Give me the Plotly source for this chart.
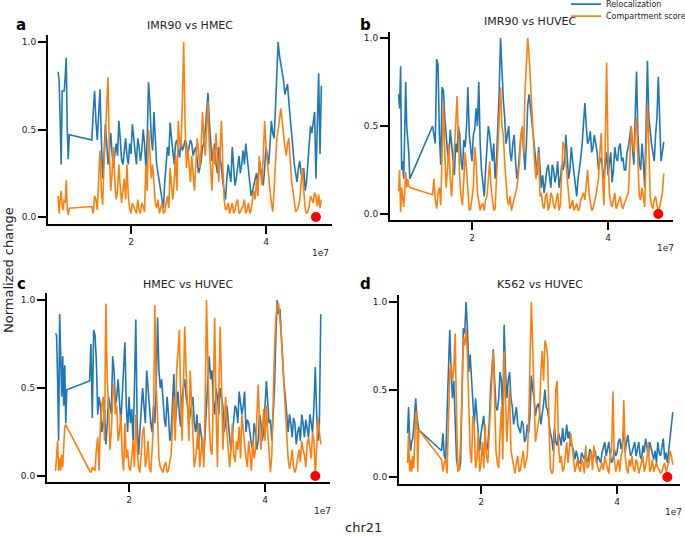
import plotly.graph_objects as go

# ---------------- data ----------------
# genomic bin positions on chr21 (Mb)
pos_seg1_mb = [9.2, 9.35, 9.5, 9.65, 9.8, 9.95, 10.1, 10.25, 10.4, 10.55, 10.7, 10.85]
pos_seg2_mb = [14.2, 14.4, 14.6, 14.8, 15.0, 15.2, 15.4, 15.6, 15.8, 16.0,
               16.2, 16.4, 16.6, 16.8, 17.0, 17.2, 17.4, 17.6, 17.8, 18.0,
               18.2, 18.4, 18.6, 18.8, 19.0, 19.2, 19.4, 19.6, 19.8, 20.0,
               20.2, 20.4, 20.6, 20.8, 21.0, 21.2, 21.4, 21.6, 21.8, 22.0,
               22.2, 22.4, 22.6, 22.8, 23.0, 23.2, 23.4, 23.6, 23.8, 24.0,
               24.2, 24.4, 24.6, 24.8, 25.0, 25.2, 25.4, 25.6, 25.8, 26.0,
               26.2, 26.4, 26.6, 26.8, 27.0, 27.2, 27.4, 27.6, 27.8, 28.0,
               28.2, 28.4, 28.6, 28.8, 29.0, 29.2, 29.4, 29.6, 29.8, 30.0,
               30.2, 30.4, 30.6, 30.8, 31.0, 31.2, 31.4, 31.6, 31.8, 32.0,
               32.2, 32.4, 32.6, 32.8, 33.0, 33.2, 33.4, 33.6, 33.8, 34.0,
               34.2, 34.4, 34.6, 34.8, 35.0, 35.2, 35.4, 35.6, 35.8, 36.0,
               36.2, 36.4, 36.6, 36.8, 37.0, 37.2, 37.4, 37.6, 37.8, 38.0,
               38.2, 38.4, 38.6, 38.8, 39.0, 39.2, 39.4, 39.6, 39.8, 40.0,
               40.2, 40.4, 40.6, 40.8, 41.0, 41.2, 41.4, 41.6, 41.8, 42.0,
               42.2, 42.4, 42.6, 42.8, 43.0, 43.2, 43.4, 43.6, 43.8, 44.0,
               44.2, 44.4, 44.6, 44.8, 45.0, 45.2, 45.4, 45.6, 45.8, 46.0,
               46.2, 46.4, 46.6, 46.8, 47.0, 47.2, 47.4, 47.6, 47.8, 48.0,
               48.2]
positions_mb = pos_seg1_mb + pos_seg2_mb

panel_titles = ["IMR90 vs HMEC", "IMR90 vs HUVEC", "HMEC vs HUVEC", "K562 vs HUVEC"]
panel_letters = ["a", "b", "c", "d"]
series_names = ["Relocalization", "Compartment score"]

# values at the 12 early bins + every second bin of the main stretch (0.4 Mb apart)
reloc_a = [0.83, 0.78, 0.55, 0.30, 0.72, 0.72, 0.72, 0.80, 0.91, 0.50, 0.33, 0.47,
           0.44, 0.72, 0.44, 0.73, 0.22, 0.53, 0.30, 0.48, 0.28, 0.42, 0.55, 0.33, 0.40,
           0.35, 0.42, 0.53, 0.38, 0.45, 0.32, 0.50, 0.28, 0.77, 0.45, 0.60, 0.30, 0.20,
           0.08, 0.20, 0.40, 0.54, 0.35, 0.42, 0.38, 0.44, 0.40, 0.42, 0.40,
           0.42, 0.38, 0.33, 0.28, 0.40, 0.50, 0.71, 0.45, 0.38, 0.30, 0.40, 0.28, 0.15,
           0.22, 0.25, 0.40, 0.18, 0.30, 0.25, 0.38, 0.42, 0.28, 0.12, 0.18, 0.25, 0.32,
           0.22, 0.28, 0.35, 0.42, 0.48, 0.62, 1.00, 0.88, 0.78, 0.74, 0.65, 0.48, 0.30,
           0.20, 0.32, 0.22, 0.15, 0.30, 0.52, 0.56, 0.22, 0.82, 0.75]
comp_a = [0.12, 0.02, 0.10, 0.15, 0.07, 0.04, 0.10, 0.08, 0.21, 0.05, 0.01, 0.05,
          0.06, 0.12, 0.04, 0.38, 0.07, 0.50, 0.80, 0.15, 0.40, 0.10, 0.30, 0.08, 0.22,
          0.30, 0.05, 0.08, 0.04, 0.10, 0.02, 0.06, 0.30, 0.50, 0.22, 0.15, 0.05, 0.02,
          0.08, 0.03, 0.12, 0.28, 0.10, 0.35, 0.55, 0.40, 1.00, 0.28, 0.32,
          0.35, 0.15, 0.45, 0.28, 0.60, 0.35, 0.66, 0.25, 0.40, 0.48, 0.20, 0.55, 0.10,
          0.05, 0.02, 0.08, 0.04, 0.10, 0.03, 0.06, 0.02, 0.08, 0.04, 0.15, 0.22, 0.35,
          0.18, 0.55, 0.30, 0.15, 0.03, 0.35, 0.50, 0.62, 0.45, 0.35, 0.45, 0.20, 0.08,
          0.04, 0.10, 0.28, 0.05, 0.03, 0.12, 0.08, 0.12, 0.13, 0.10]
reloc_b = [0.68, 0.60, 0.84, 0.25, 0.30, 0.20, 0.45, 0.75, 0.50, 0.42, 0.35, 0.20,
           0.50, 0.40, 0.85, 0.28, 0.70, 0.42, 0.30, 0.40, 0.22, 0.35, 0.45, 0.25, 0.38,
           0.72, 0.35, 0.45, 0.60, 0.75, 0.25, 0.10, 0.35, 0.45, 0.30, 0.20, 0.48, 1.00,
           0.65, 0.40, 0.50, 0.30, 0.45, 0.20, 0.35, 0.48, 0.25, 0.62, 0.60,
           0.45, 0.30, 0.38, 0.15, 0.12, 0.25, 0.20, 0.28, 0.18, 0.30, 0.20, 0.25, 0.45,
           0.20, 0.38, 0.22, 0.10, 0.25, 0.40, 0.63, 0.40, 0.47, 0.38, 0.40, 0.25, 0.32,
           0.20, 0.35, 0.28, 0.18, 0.38, 0.30, 0.40, 0.32, 0.25, 0.38, 0.50, 0.28, 0.81,
           0.30, 0.40, 0.15, 0.87, 0.45, 0.35, 0.45, 0.78, 0.30, 0.41]
comp_b = [0.13, 0.25, 0.01, 0.15, 0.10, 0.04, 0.12, 0.24, 0.15, 0.20, 0.16, 0.15,
          0.11, 0.08, 0.12, 0.05, 0.62, 0.15, 0.40, 0.10, 0.35, 0.67, 0.20, 0.05, 0.35,
          0.10, 0.03, 0.15, 0.30, 0.08, 0.05, 0.02, 0.10, 0.30, 0.08, 0.03, 0.40, 0.72,
          0.45, 0.15, 0.05, 0.02, 0.08, 0.15, 0.30, 0.50, 0.70, 1.00, 0.75,
          0.40, 0.20, 0.35, 0.12, 0.03, 0.12, 0.05, 0.10, 0.03, 0.12, 0.05, 0.41, 0.30,
          0.12, 0.05, 0.02, 0.06, 0.03, 0.10, 0.08, 0.25, 0.08, 0.03, 0.10, 0.20, 0.46,
          0.05, 0.86, 0.12, 0.04, 0.12, 0.05, 0.10, 0.03, 0.08, 0.12, 0.50, 0.35, 0.55,
          0.10, 0.15, 0.04, 0.62, 0.10, 0.03, 0.10, 0.02, 0.08, 0.23]
reloc_c = [0.81, 0.80, 0.55, 0.20, 0.92, 0.60, 0.45, 0.68, 0.40, 0.63, 0.30, 0.49,
           0.54, 0.33, 0.80, 0.35, 0.40, 0.30, 0.18, 0.45, 0.35, 0.60, 0.45, 0.40, 0.45,
           0.76, 0.25, 0.30, 0.20, 0.89, 0.12, 0.35, 0.40, 0.60, 0.40, 0.25, 0.30, 0.90,
           0.50, 0.40, 0.28, 0.35, 0.25, 0.58, 0.40, 0.35, 0.45, 0.55, 0.40,
           0.35, 0.45, 0.25, 0.15, 0.25, 0.10, 0.40, 0.68, 0.60, 0.35, 0.45, 0.50, 0.40,
           0.30, 0.28, 0.15, 0.30, 0.38, 0.48, 0.35, 0.48, 0.32, 0.22, 0.15, 0.25, 0.20,
           0.30, 0.25, 0.54, 0.30, 0.20, 0.50, 1.00, 0.95, 0.65, 0.45, 0.25, 0.30, 0.33,
           0.18, 0.28, 0.35, 0.22, 0.28, 0.35, 0.25, 0.62, 0.20, 0.92]
comp_c = [0.03, 0.15, 0.20, 0.03, 0.10, 0.03, 0.12, 0.05, 0.20, 0.28, 0.29, 0.28,
          0.03, 0.05, 0.03, 0.22, 0.30, 0.45, 0.98, 0.40, 0.25, 0.52, 0.40, 0.25, 0.12,
          0.30, 0.15, 0.03, 0.20, 0.35, 0.05, 0.12, 0.28, 0.10, 0.05, 0.15, 0.97, 0.35,
          0.05, 0.02, 0.08, 0.03, 0.12, 0.45, 0.60, 0.83, 0.20, 0.85, 0.35,
          0.60, 0.25, 0.10, 0.30, 0.15, 0.05, 1.00, 0.30, 0.12, 0.90, 0.05, 0.85, 0.15,
          0.45, 0.15, 0.15, 0.12, 0.20, 0.28, 0.35, 0.18, 0.05, 0.12, 0.20, 0.15, 0.52,
          0.15, 0.38, 0.40, 0.15, 0.12, 0.72, 0.97, 0.90, 0.65, 0.35, 0.10, 0.08, 0.05,
          0.05, 0.15, 0.20, 0.12, 0.18, 0.14, 0.25, 0.00, 0.33, 0.18]
reloc_d = [0.25, 0.40, 0.22, 0.15, 0.20, 0.22, 0.28, 0.38, 0.45, 0.35, 0.30, 0.27,
           0.15, 0.12, 0.35, 0.84, 0.45, 0.35, 0.05, 0.08, 0.85, 1.00, 0.60, 0.55, 0.30,
           0.35, 0.15, 0.30, 0.22, 0.18, 0.50, 0.73, 0.40, 0.45, 0.55, 0.87, 0.45, 0.60,
           0.40, 0.35, 0.30, 0.25, 0.30, 0.22, 0.25, 0.58, 0.45, 0.40, 0.38,
           0.35, 0.50, 0.38, 0.25, 0.15, 0.20, 0.25, 0.18, 0.20, 0.30, 0.26, 0.18, 0.10,
           0.12, 0.08, 0.12, 0.15, 0.10, 0.14, 0.12, 0.08, 0.10, 0.14, 0.20, 0.16, 0.13,
           0.10, 0.12, 0.20, 0.16, 0.28, 0.20, 0.17, 0.14, 0.20, 0.16, 0.12, 0.18, 0.22,
           0.12, 0.16, 0.10, 0.08, 0.14, 0.18, 0.10, 0.08, 0.22, 0.37]
comp_d = [0.08, 0.25, 0.03, 0.10, 0.03, 0.12, 0.05, 0.20, 0.35, 0.38, 0.03, 0.27,
          0.10, 0.08, 0.02, 0.60, 0.55, 0.82, 0.03, 0.20, 0.80, 0.85, 0.40, 0.08, 0.30,
          0.10, 0.03, 0.20, 0.30, 0.08, 0.35, 0.72, 0.15, 0.05, 0.40, 0.72, 0.20, 0.50,
          0.10, 0.02, 0.12, 0.04, 0.15, 0.08, 0.30, 1.00, 0.40, 0.25, 0.35,
          0.72, 0.78, 0.68, 0.05, 0.03, 0.50, 0.18, 0.12, 0.05, 0.20, 0.15, 0.18, 0.03,
          0.10, 0.03, 0.08, 0.18, 0.06, 0.15, 0.18, 0.08, 0.03, 0.08, 0.12, 0.05, 0.12,
          0.49, 0.03, 0.10, 0.12, 0.44, 0.05, 0.10, 0.12, 0.03, 0.08, 0.05, 0.12, 0.06,
          0.20, 0.05, 0.03, 0.08, 0.04, 0.03, 0.08, 0.05, 0.15, 0.07]

# values at the in-between bins of the main stretch
mid_reloc_a = [0.60, 0.55, 0.58, 0.45, 0.35, 0.42, 0.38, 0.36, 0.36, 0.35,
               0.45, 0.30, 0.45, 0.30, 0.36, 0.45, 0.30, 0.40, 0.38, 0.42,
               0.45, 0.65, 0.38, 0.42, 0.25, 0.15, 0.05, 0.30, 0.35, 0.45,
               0.30, 0.44, 0.34, 0.38, 0.44, 0.35, 0.44, 0.35, 0.40, 0.25,
               0.32, 0.42, 0.62, 0.55, 0.32, 0.42, 0.25, 0.35, 0.20, 0.10,
               0.30, 0.20, 0.30, 0.22, 0.35, 0.30, 0.30, 0.35, 0.20, 0.15,
               0.22, 0.18, 0.28, 0.18, 0.40, 0.30, 0.55, 0.45, 0.80, 0.92,
               0.82, 0.70, 0.76, 0.55, 0.40, 0.25, 0.28, 0.25, 0.28, 0.20,
               0.45, 0.48, 0.60, 0.55, 0.36]
mid_comp_a = [0.02, 0.10, 0.20, 0.15, 0.30, 0.60, 0.35, 0.25, 0.20, 0.15,
              0.18, 0.15, 0.10, 0.12, 0.02, 0.06, 0.02, 0.04, 0.08, 0.03,
              0.15, 0.35, 0.30, 0.08, 0.10, 0.06, 0.02, 0.08, 0.05, 0.18,
              0.20, 0.15, 0.42, 0.65, 0.55, 0.40, 0.20, 0.25, 0.30, 0.38,
              0.40, 0.45, 0.50, 0.40, 0.15, 0.30, 0.35, 0.38, 0.30, 0.04,
              0.08, 0.05, 0.02, 0.08, 0.02, 0.05, 0.10, 0.04, 0.02, 0.10,
              0.10, 0.12, 0.25, 0.35, 0.40, 0.20, 0.08, 0.15, 0.45, 0.55,
              0.55, 0.40, 0.42, 0.30, 0.15, 0.03, 0.06, 0.20, 0.15, 0.02,
              0.06, 0.10, 0.14, 0.06, 0.05]
mid_reloc_b = [0.45, 0.88, 0.45, 0.72, 0.55, 0.35, 0.48, 0.30, 0.40, 0.50,
               0.30, 0.42, 0.50, 0.45, 0.30, 0.48, 0.50, 0.40, 0.15, 0.25,
               0.50, 0.35, 0.40, 0.30, 0.70, 0.80, 0.55, 0.45, 0.35, 0.40,
               0.30, 0.25, 0.45, 0.35, 0.40, 0.68, 0.50, 0.38, 0.22, 0.25,
               0.22, 0.18, 0.28, 0.15, 0.25, 0.22, 0.15, 0.28, 0.30, 0.30,
               0.25, 0.30, 0.15, 0.20, 0.32, 0.50, 0.50, 0.42, 0.35, 0.45,
               0.35, 0.30, 0.25, 0.28, 0.22, 0.35, 0.25, 0.32, 0.38, 0.30,
               0.25, 0.35, 0.45, 0.38, 0.55, 0.45, 0.25, 0.30, 0.50, 0.55,
               0.40, 0.30, 0.55, 0.45, 0.35]
mid_comp_b = [0.20, 0.03, 0.15, 0.30, 0.35, 0.25, 0.20, 0.25, 0.50, 0.40,
              0.10, 0.20, 0.25, 0.02, 0.10, 0.38, 0.12, 0.02, 0.06, 0.08,
              0.20, 0.15, 0.02, 0.20, 0.55, 0.50, 0.30, 0.08, 0.10, 0.05,
              0.12, 0.22, 0.45, 0.35, 0.85, 0.90, 0.55, 0.30, 0.28, 0.10,
              0.05, 0.10, 0.02, 0.12, 0.05, 0.08, 0.02, 0.25, 0.38, 0.20,
              0.03, 0.08, 0.04, 0.02, 0.08, 0.12, 0.15, 0.12, 0.02, 0.06,
              0.15, 0.35, 0.20, 0.40, 0.35, 0.06, 0.08, 0.03, 0.08, 0.05,
              0.06, 0.10, 0.30, 0.42, 0.45, 0.30, 0.08, 0.10, 0.35, 0.40,
              0.05, 0.08, 0.05, 0.04, 0.12]
mid_reloc_c = [0.75, 0.83, 0.65, 0.45, 0.25, 0.38, 0.30, 0.40, 0.68, 0.40,
               0.55, 0.30, 0.60, 0.40, 0.45, 0.38, 0.50, 0.30, 0.25, 0.50,
               0.30, 0.52, 0.30, 0.40, 0.50, 0.60, 0.55, 0.32, 0.45, 0.20,
               0.42, 0.30, 0.48, 0.28, 0.50, 0.45, 0.30, 0.40, 0.30, 0.35,
               0.30, 0.18, 0.28, 0.55, 0.55, 0.42, 0.50, 0.35, 0.45, 0.25,
               0.40, 0.22, 0.25, 0.40, 0.30, 0.42, 0.40, 0.25, 0.30, 0.18,
               0.30, 0.15, 0.35, 0.20, 0.40, 0.42, 0.32, 0.35, 0.80, 0.92,
               0.80, 0.52, 0.35, 0.35, 0.22, 0.30, 0.25, 0.20, 0.30, 0.32,
               0.22, 0.30, 0.40, 0.35, 0.30]
mid_comp_c = [0.02, 0.04, 0.15, 0.03, 0.40, 0.20, 0.55, 0.15, 0.45, 0.35,
              0.20, 0.35, 0.03, 0.10, 0.05, 0.10, 0.05, 0.15, 0.02, 0.25,
              0.05, 0.20, 0.02, 0.30, 0.50, 0.10, 0.03, 0.06, 0.02, 0.08,
              0.30, 0.20, 0.70, 0.45, 0.50, 0.60, 0.20, 0.40, 0.05, 0.20,
              0.05, 0.22, 0.40, 0.55, 0.15, 0.45, 0.40, 0.45, 0.55, 0.30,
              0.25, 0.05, 0.30, 0.08, 0.15, 0.10, 0.25, 0.10, 0.20, 0.03,
              0.10, 0.35, 0.28, 0.25, 0.20, 0.25, 0.02, 0.45, 0.90, 0.98,
              0.80, 0.50, 0.25, 0.04, 0.15, 0.02, 0.10, 0.08, 0.15, 0.05,
              0.22, 0.10, 0.20, 0.20, 0.25]
mid_reloc_d = [0.25, 0.10, 0.62, 0.60, 0.55, 0.10, 0.04, 0.40, 0.82, 0.85,
               0.70, 0.40, 0.45, 0.25, 0.25, 0.35, 0.15, 0.30, 0.60, 0.55,
               0.38, 0.60, 0.35, 0.60, 0.55, 0.45, 0.30, 0.40, 0.28, 0.32,
               0.20, 0.30, 0.35, 0.50, 0.35, 0.42, 0.30, 0.42, 0.40, 0.30,
               0.22, 0.28, 0.18, 0.22, 0.28, 0.22, 0.22, 0.18, 0.15, 0.15,
               0.08, 0.14, 0.10, 0.08, 0.16, 0.10, 0.15, 0.12, 0.08, 0.18,
               0.12, 0.20, 0.08, 0.16, 0.14, 0.22, 0.20, 0.14, 0.24, 0.12,
               0.18, 0.12, 0.20, 0.10, 0.14, 0.16, 0.20, 0.12, 0.15, 0.20,
               0.12, 0.22, 0.14, 0.15, 0.28]
mid_comp_d = [0.03, 0.10, 0.30, 0.65, 0.62, 0.35, 0.05, 0.45, 0.75, 0.70,
              0.15, 0.35, 0.05, 0.25, 0.08, 0.05, 0.12, 0.25, 0.50, 0.45,
              0.08, 0.25, 0.10, 0.45, 0.35, 0.15, 0.05, 0.08, 0.03, 0.10,
              0.05, 0.12, 0.60, 0.75, 0.20, 0.30, 0.60, 0.55, 0.75, 0.30,
              0.02, 0.25, 0.55, 0.08, 0.03, 0.12, 0.08, 0.25, 0.08, 0.06,
              0.05, 0.10, 0.02, 0.05, 0.10, 0.04, 0.12, 0.05, 0.06, 0.04,
              0.08, 0.02, 0.15, 0.10, 0.06, 0.03, 0.15, 0.12, 0.02, 0.06,
              0.05, 0.10, 0.02, 0.08, 0.03, 0.10, 0.03, 0.10, 0.06, 0.05,
              0.02, 0.06, 0.03, 0.08, 0.12]

highlight_pos_mb = 47.4
highlight_val = 0.0

x_tick_vals = [2e7, 4e7]
x_tick_text = ["2", "4"]
y_tick_vals = [0.0, 0.5, 1.0]
y_tick_text = ["0.0", "0.5", "1.0"]


def full_series(coarse, mids):
    """Merge the early bins, the 0.4 Mb-spaced bins and the in-between bins in genomic order."""
    early, main = coarse[:12], coarse[12:]
    assert len(main) == len(mids) + 1, (len(main), len(mids))
    out = list(early)
    for j, v in enumerate(main):
        out.append(v)
        if j < len(mids):
            out.append(mids[j])
    return out


reloc_all = [full_series(reloc_a, mid_reloc_a), full_series(reloc_b, mid_reloc_b),
             full_series(reloc_c, mid_reloc_c), full_series(reloc_d, mid_reloc_d)]
comp_all = [full_series(comp_a, mid_comp_a), full_series(comp_b, mid_comp_b),
            full_series(comp_c, mid_comp_c), full_series(comp_d, mid_comp_d)]
for s in reloc_all + comp_all:
    assert len(s) == len(positions_mb), len(s)

# ---------------- layout (pixel geometry of the 685x536 page) ----------------
W, H = 685, 536
BLUE, ORANGE = "#1f77b4", "#ff7f0e"
FONT = "DejaVu Sans"
panel_geom = [
    dict(xpx=(48, 332), ypx=(35, 224), xr=(0.770e7, 4.978e7), yr=(-0.04, 1.04)),
    dict(xpx=(390, 673), ypx=(32, 220), xr=(0.794e7, 4.956e7), yr=(-0.034, 1.034)),
    dict(xpx=(47, 330), ypx=(293, 482), xr=(0.794e7, 4.956e7), yr=(-0.034, 1.04)),
    dict(xpx=(399, 680), ypx=(295, 484), xr=(0.794e7, 4.926e7), yr=(-0.04, 1.04)),
]
title_px = [(190, 25), (530, 22), (188, 284), (540, 284)]
letter_px = [(21, 25), (366, 25), (21, 284), (366, 284)]
exp_px = [(320, 253), (665, 248), (322, 511), (673, 512)]

positions = [p * 1e6 for p in positions_mb]

fig = go.Figure()
for i in range(4):
    sfx = "" if i == 0 else str(i + 1)
    fig.add_trace(go.Scatter(x=positions, y=reloc_all[i], mode="lines",
                             line=dict(color=BLUE, width=1.6), name=series_names[0],
                             legend="legend", showlegend=(i == 0),
                             xaxis="x" + sfx, yaxis="y" + sfx))
    fig.add_trace(go.Scatter(x=positions, y=comp_all[i], mode="lines",
                             line=dict(color=ORANGE, width=1.6), name=series_names[1],
                             legend="legend2", showlegend=(i == 0),
                             xaxis="x" + sfx, yaxis="y" + sfx))
    fig.add_trace(go.Scatter(x=[highlight_pos_mb * 1e6], y=[highlight_val], mode="markers",
                             marker=dict(color="#ff0000", size=10), showlegend=False,
                             cliponaxis=False, xaxis="x" + sfx, yaxis="y" + sfx))

axis_common = dict(showline=True, linecolor="black", linewidth=2, ticks="outside",
                   ticklen=8, tickwidth=2, tickcolor="black", showgrid=False,
                   zeroline=False, tickfont=dict(family=FONT, size=9, color="#222"))
annotations = []
for i, g in enumerate(panel_geom):
    sfx = "" if i == 0 else str(i + 1)
    xd = [g["xpx"][0] / W, g["xpx"][1] / W]
    yd = [1 - g["ypx"][1] / H, 1 - g["ypx"][0] / H]
    fig.layout["xaxis" + sfx] = dict(domain=xd, range=list(g["xr"]), anchor="y" + sfx,
                                     tickvals=x_tick_vals, ticktext=x_tick_text, **axis_common)
    fig.layout["yaxis" + sfx] = dict(domain=yd, range=list(g["yr"]), anchor="x" + sfx,
                                     tickvals=y_tick_vals, ticktext=y_tick_text, **axis_common)
    tx, ty = title_px[i]
    annotations.append(dict(text=panel_titles[i], x=tx / W, y=1 - ty / H, xref="paper", yref="paper",
                            showarrow=False, xanchor="center", yanchor="middle",
                            font=dict(family=FONT, size=11, color="#222")))
    lx, ly = letter_px[i]
    annotations.append(dict(text="<b>" + panel_letters[i] + "</b>", x=lx / W, y=1 - ly / H,
                            xref="paper", yref="paper", showarrow=False,
                            xanchor="center", yanchor="middle",
                            font=dict(family=FONT, size=15, color="black")))
    ex, ey = exp_px[i]
    annotations.append(dict(text="1e7", x=ex / W, y=1 - ey / H, xref="paper", yref="paper",
                            showarrow=False, xanchor="center", yanchor="middle",
                            font=dict(family=FONT, size=9, color="#222")))

annotations.append(dict(text="Normalized change", x=8 / W, y=1 - 270 / H, xref="paper", yref="paper",
                        showarrow=False, textangle=-90, xanchor="center", yanchor="middle",
                        font=dict(family=FONT, size=13, color="#222")))
annotations.append(dict(text="chr21", x=363 / W, y=1 - 527 / H, xref="paper", yref="paper",
                        showarrow=False, xanchor="center", yanchor="middle",
                        font=dict(family=FONT, size=13, color="#222")))

legend_style = dict(x=566 / W, xanchor="left", yanchor="top", bgcolor="rgba(0,0,0,0)",
                    font=dict(family=FONT, size=8, color="#222"), itemwidth=30)
fig.update_layout(
    width=W, height=H,
    margin=dict(l=0, r=0, t=0, b=0, pad=0, autoexpand=False),
    paper_bgcolor="white", plot_bgcolor="white",
    annotations=annotations,
    showlegend=True,
    legend=dict(y=1 + 10.4 / H, **legend_style),
    legend2=dict(y=1 - 1.6 / H, **legend_style),
)

fig.write_html("out.html", config={"displayModeBar": False},
               post_script="document.body.style.margin='0';")
